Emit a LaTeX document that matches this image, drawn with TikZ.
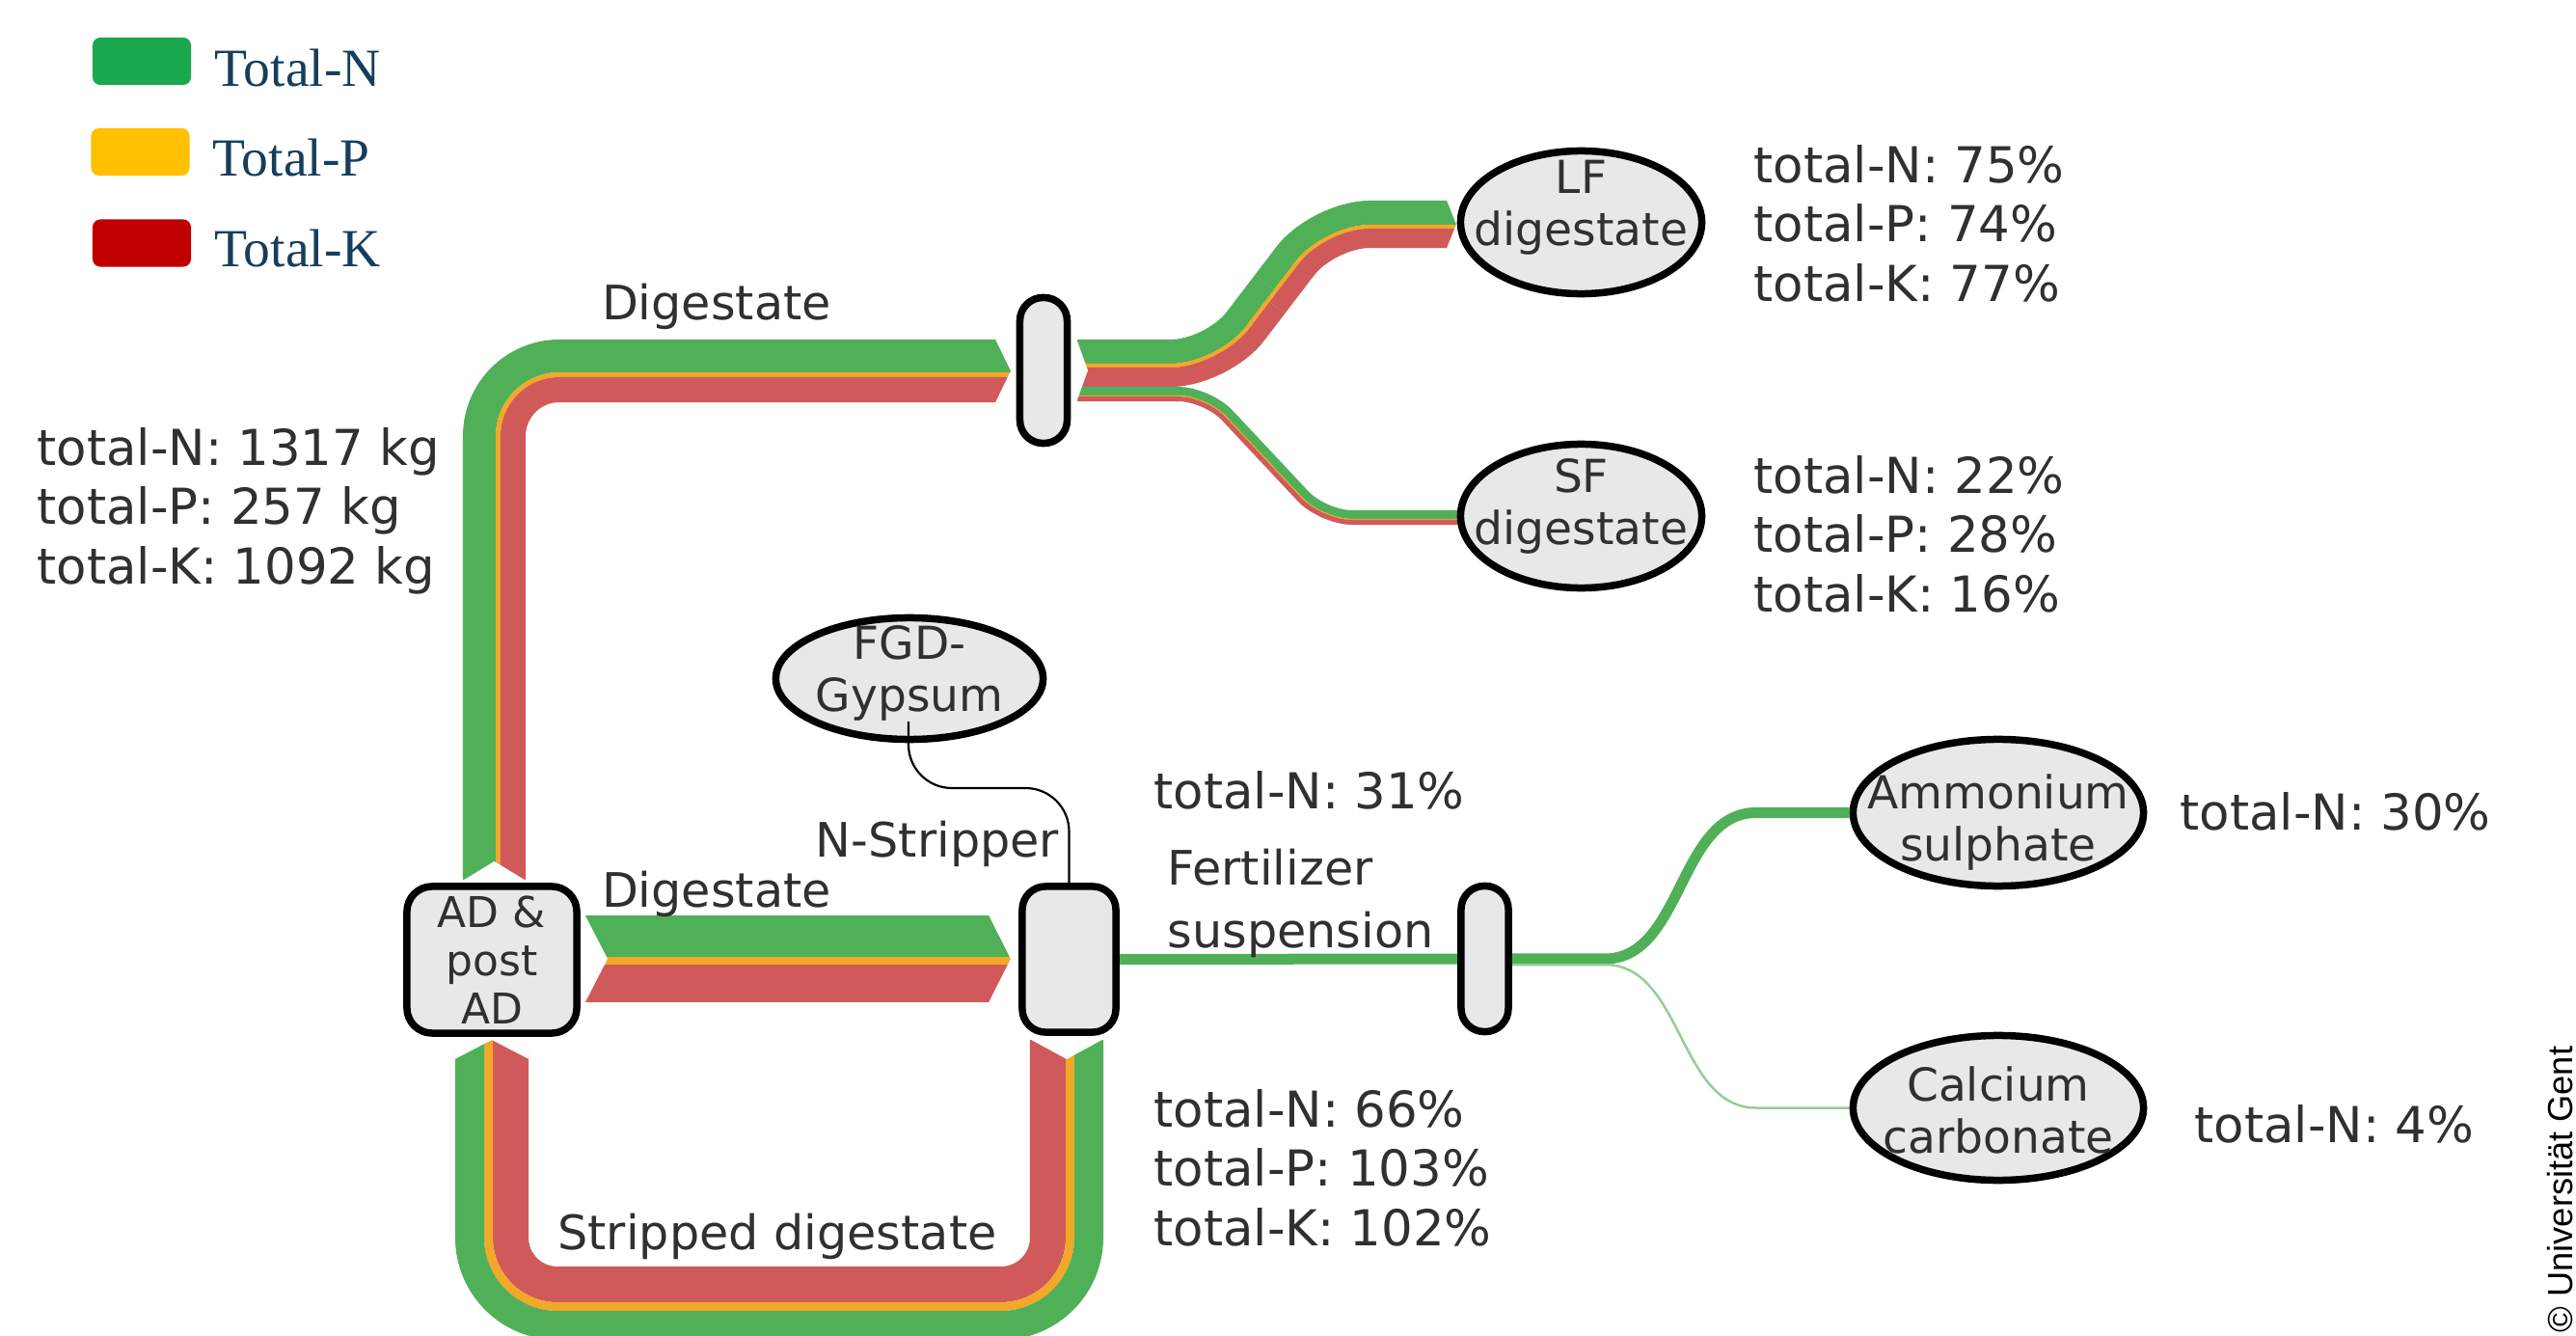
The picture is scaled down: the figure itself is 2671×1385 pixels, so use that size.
\documentclass[tikz,border=0pt]{standalone}
\usepackage{fontspec}
\setmainfont{DejaVu Sans}
\newfontfamily\legfont{Liberation Serif}
\newfontfamily\cpfont{Liberation Sans}
\usetikzlibrary{shapes.geometric,calc}
\pgfdeclarelayer{bg}
\pgfsetlayers{bg,main}
\definecolor{gN}{RGB}{80,176,88}
\definecolor{gP}{RGB}{242,168,40}
\definecolor{gK}{RGB}{208,90,90}
\definecolor{legN}{RGB}{26,168,78}
\definecolor{legP}{RGB}{255,192,0}
\definecolor{legK}{RGB}{192,0,0}
\definecolor{legtxt}{RGB}{22,62,92}
\definecolor{nfill}{RGB}{232,232,232}
\definecolor{txt}{RGB}{48,48,48}
\definecolor{thinN}{RGB}{150,205,150}
\begin{document}
\begin{tikzpicture}[x=0.01cm,y=-0.01cm,
  legbox/.style={rectangle, rounded corners=0.08cm, minimum width=1.02cm, minimum height=0.49cm, inner sep=0pt},
  legtext/.style={font=\legfont\fontsize{15.8}{18}\selectfont, text=legtxt, inner sep=0pt, anchor=base west},
  unit/.style={draw=black, line width=0.075cm, fill=nfill, inner sep=0pt},
  pill/.style={unit, rectangle, rounded corners=0.24cm, minimum width=0.49cm, minimum height=1.51cm},
  prod/.style={unit, ellipse},
  etext/.style={align=center, font=\fontsize{13.4}{15.4}\selectfont, text=txt, inner sep=0pt},
  tot/.style={align=left, font=\fontsize{14.6}{17.4}\selectfont, text=txt, inner sep=0pt, anchor=north west},
  tot1/.style={font=\fontsize{14.6}{17.4}\selectfont, text=txt, inner sep=0pt, anchor=base west},
  flab/.style={font=\fontsize{14}{18.5}\selectfont, text=txt, inner sep=0pt},
  mask/.style={fill=white, draw=none},
  conn/.style={draw=black, line width=0.022cm}
]
\useasboundingbox (0,0) rectangle (2671,1385);

% ---------- legend ----------
\node[legbox, fill=legN] (lgN) at (147,63.5) {};
\node[legbox, fill=legP] (lgP) at (145.5,157.5) {};
\node[legbox, fill=legK] (lgK) at (147,252) {};
\node[legtext] (lgNt) at (222,90) {Total-N};
\node[legtext] (lgPt) at (220,183) {Total-P};
\node[legtext] (lgKt) at (222,277) {Total-K};

% ---------- process units ----------
\node[unit, rectangle, rounded corners=0.26cm, minimum width=1.76cm, minimum height=1.52cm,
      align=center, font=\fontsize{12.5}{14.2}\selectfont, text=txt] (ad) at (510,995) {AD \&\\post\\AD};
\node[unit, rectangle, rounded corners=0.24cm, minimum width=0.97cm, minimum height=1.51cm] (strip) at (1108.5,994.5) {};
\node[pill] (sep1) at (1082,384) {};
\node[pill] (sep2) at (1539.5,994) {};

\node[prod, minimum width=2.5cm, minimum height=1.48cm] (lf) at (1639.5,230.5) {};
\node[prod, minimum width=2.5cm, minimum height=1.49cm] (sf) at (1639.5,535) {};
\node[prod, minimum width=2.77cm, minimum height=1.26cm] (fgd) at (943,703.5) {};
\node[prod, minimum width=3.01cm, minimum height=1.52cm] (amm) at (2072,842.5) {};
\node[prod, minimum width=3.01cm, minimum height=1.50cm] (caco) at (2072,1148.5) {};

\node[etext] (lft) at (1639.5,215.5) {LF\\digestate};
\node[etext] (sft) at (1639.5,524.5) {SF\\digestate};
\node[etext] (fgdt) at (943,697.5) {FGD-\\Gypsum};
\node[etext] (ammt) at (2072,852.5) {Ammonium\\sulphate};
\node[etext] (cacot) at (2072,1151) {Calcium\\carbonate};

% ---------- FGD connector ----------
\coordinate (fgdout) at (942,748);
\coordinate (fgdbend) at (1108.5,817);
\draw[conn, rounded corners=0.45cm] (fgdout) |- (fgdbend) -- (strip.north);

% ---------- labels ----------
\node[tot] (inp) at (38,443) {total-N: 1317 kg\\total-P: 257 kg\\total-K: 1092 kg};
\node[tot] (lfv) at (1818,150) {total-N: 75\%\\total-P: 74\%\\total-K: 77\%};
\node[tot] (sfv) at (1818,472) {total-N: 22\%\\total-P: 28\%\\total-K: 16\%};
\node[tot1] (fsv) at (1196,838) {total-N: 31\%};
\node[tot] (sdv) at (1196,1129) {total-N: 66\%\\total-P: 103\%\\total-K: 102\%};
\node[tot1] (amv) at (2260,860) {total-N: 30\%};
\node[tot1] (cav) at (2275,1184) {total-N: 4\%};

\node[flab, anchor=base] (dig1) at (743,332) {Digestate};
\node[flab, anchor=base] (dig2) at (743,940) {Digestate};
\node[flab, anchor=base] (nstr) at (972,888) {N-Stripper};
\node[flab, anchor=base] (sdig) at (806,1295) {Stripped digestate};
\node[flab, anchor=north west, align=left] (fert) at (1210,879) {Fertilizer\\suspension};

\node[font=\cpfont\fontsize{10.3}{12}\selectfont, text=black, inner sep=0pt, rotate=90, anchor=base west] (copy) at (2667,1382) {© Universität Gent};

% ---------- flows (background layer) ----------
\begin{pgfonlayer}{bg}
\fill[white] (0,0) rectangle (2671,1385);

% AD -> separator 1 (digestate)
\draw[gN, line width=0.34cm, rounded corners=0.83cm] (497,912) -- (497,369) -- (1048,369);
\draw[gP, line width=0.05cm, rounded corners=0.635cm] (516.5,912) -- (516.5,388.5) -- (1048,388.5);
\draw[gK, line width=0.26cm, rounded corners=0.48cm] (532,912) -- (532,404) -- (1048,404);

% AD -> N-stripper (digestate)
\fill[gN] (607,949) rectangle (1048,992);
\fill[gP] (607,992) rectangle (1048,1000);
\fill[gK] (607,1000) rectangle (1048,1039);

% N-stripper -> AD (stripped digestate)
\draw[gK, line width=0.37cm, rounded corners=0.485cm] (1086.5,1078) -- (1086.5,1331.5) -- (529.5,1331.5) -- (529.5,1078);
\draw[gP, line width=0.09cm, rounded corners=0.715cm] (1109.5,1078) -- (1109.5,1354.5) -- (506.5,1354.5) -- (506.5,1078);
\draw[gN, line width=0.30cm, rounded corners=0.91cm] (1129,1078) -- (1129,1374) -- (487,1374) -- (487,1078);

% separator 1 -> LF digestate
\draw[gN, line width=0.25cm, rounded corners=0.422cm] (1117,364.5) -- (1256.2,364.5) -- (1311.2,292.5);
\draw[gN, line width=0.25cm, rounded corners=0.541cm] (1311.2,292.5) -- (1366.2,220.5) -- (1510,220.5);
\draw[gP, line width=0.04cm, rounded corners=0.494cm] (1117,379) -- (1263.3,379) -- (1318.3,307);
\draw[gP, line width=0.04cm, rounded corners=0.469cm] (1318.3,307) -- (1373.3,235) -- (1510,235);
\draw[gK, line width=0.20cm, rounded corners=0.553cm] (1117,391) -- (1269.3,391) -- (1324.3,319);
\draw[gK, line width=0.20cm, rounded corners=0.41cm] (1324.3,319) -- (1379.3,247) -- (1510,247);

% separator 1 -> SF digestate
\draw[gN, line width=0.09cm, rounded corners=0.315cm] (1117,405.5) -- (1253.1,405.5) -- (1313.1,469.5);
\draw[gN, line width=0.09cm, rounded corners=0.289cm] (1313.1,469.5) -- (1373.1,533.5) -- (1514,533.5);
\draw[gP, line width=0.013cm, rounded corners=0.294cm] (1117,410.5) -- (1250.9,410.5) -- (1310.9,474.5);
\draw[gP, line width=0.013cm, rounded corners=0.311cm] (1310.9,474.5) -- (1370.9,538.5) -- (1514,538.5);
\draw[gK, line width=0.05cm, rounded corners=0.281cm] (1117,413.5) -- (1249.6,413.5) -- (1309.6,477.5);
\draw[gK, line width=0.05cm, rounded corners=0.324cm] (1309.6,477.5) -- (1369.6,541.5) -- (1514,541.5);

% arrow tips and tails
\fill[mask] (479.5,913) -- (512.5,893) -- (545.5,913) -- cycle;
\fill[mask] (1032,351.5) -- (1048,384.5) -- (1032,417.5) -- (1051,418) -- (1051,351) -- cycle;
\fill[mask] (606.5,948.5) -- (630,994) -- (606.5,1039.5) -- cycle;
\fill[mask] (1025,948.5) -- (1048,994) -- (1025,1039.5) -- (1051,1040) -- (1051,948) -- cycle;
\fill[mask] (1067.5,1077) -- (1106,1098) -- (1144.5,1077) -- cycle;
\fill[mask] (471.5,1098) -- (510,1078) -- (548.5,1098) -- (549,1076) -- (471,1076) -- cycle;
\fill[mask] (1116,351) -- (1128,384) -- (1116,417) -- cycle;
\fill[mask] (1500,207.5) -- (1510,232.5) -- (1500,257.5) -- (1516,258) -- (1516,207) -- cycle;

% N-stripper -> separator 2 -> products
\draw[gN, line width=0.11cm] (strip.east) -- (sep2.west);
\draw[gN, line width=0.11cm] (sep2.east) -- (1664,994) .. controls (1745,994) and (1740,842.5) .. (1821,842.5) -- (amm.west);
\draw[thinN, line width=0.025cm] ($(sep2.east)+(0,6)$) -- (1664,1000) .. controls (1745,1000) and (1740,1148.5) .. (1821,1148.5) -- (caco.west);
\end{pgfonlayer}
\end{tikzpicture}
\end{document}
